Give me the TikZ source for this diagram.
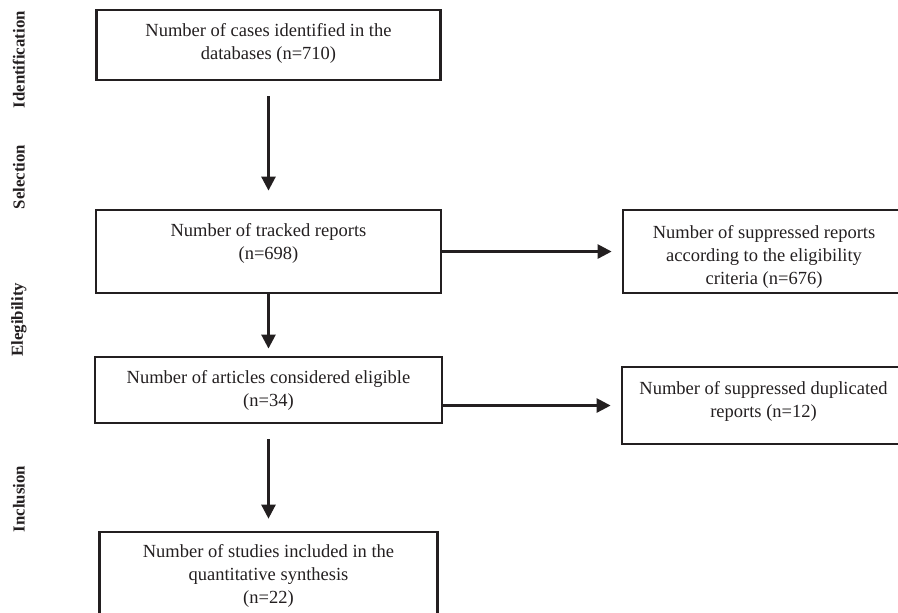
\documentclass[tikz,border=0pt]{standalone}
\usepackage{fontspec}
\setmainfont{Liberation Serif}
\usetikzlibrary{arrows.meta,positioning}
\definecolor{ink}{HTML}{231F20}

\begin{document}
\begin{tikzpicture}[box/.style={rectangle, draw=ink, line width=1.4pt}, txt/.style={align=center, text=ink, font=\fontsize{9.25}{11.5}\selectfont}, phase/.style={rotate=90, text=ink, font=\bfseries\fontsize{8.4}{10}\selectfont}, flow/.style={draw=ink, line width=1.3pt, -{Triangle[length=7pt,width=7pt]}}]
  \useasboundingbox (0,0) rectangle (15.78,-10.755);
  \node[phase] (ident) at (0.33, -1.05) {Identification};
  \node[phase] (selec) at (0.33, -3.11) {Selection};
  \node[phase] (eleg) at (0.33, -5.62) {Elegibility};
  \node[phase] (incl) at (0.33, -8.77) {Inclusion};
  \node[box, minimum width=6.045cm, minimum height=1.23cm] (b1) at (4.718, -0.791) {};
  \node[box, minimum width=6.063cm, minimum height=1.459cm] (b2) at (4.718, -4.42) {};
  \node[box, minimum width=6.098cm, minimum height=1.16cm] (b3) at (4.718, -6.853) {};
  \node[box, minimum width=5.94cm, minimum height=1.757cm] (b4) at (4.718, -10.228) {};
  \node[box, minimum width=4.956cm, minimum height=1.459cm] (bA) at (13.426, -4.42) {};
  \node[box, minimum width=4.973cm, minimum height=1.353cm] (bB) at (13.417, -7.126) {};
  \node[txt, below=4pt of b1.north] (t1) {Number of cases identified in the\\databases (n=710)};
  \node[txt, below=4pt of b2.north] (t2) {Number of tracked reports\\(n=698)};
  \node[txt, below=4pt of b3.north] (t3) {Number of articles considered eligible\\(n=34)};
  \node[txt, below=3.5pt of b4.north] (t4) {Number of studies included in the\\quantitative synthesis\\(n=22)};
  \node[txt, below=5pt of bA.north] (tA) {Number of suppressed reports\\according to the eligibility\\criteria (n=676)};
  \node[txt, below=4.5pt of bB.north] (tB) {Number of suppressed duplicated\\reports (n=12)};
  \draw[flow, shorten <=7.5pt, shorten >=9pt] (b1.south) -- (b2.north);
  \draw[flow, shorten >=3.5pt] (b2.south) -- (b3.north);
  \draw[flow, shorten <=7.5pt, shorten >=6pt] (b3.south) -- (b4.north);
  \draw[flow, shorten >=5pt] (b2.east) -- (bA.west);
  \draw[flow, shorten >=5pt] (b3.east |- bB.west) -- (bB.west);
\end{tikzpicture}
\end{document}
